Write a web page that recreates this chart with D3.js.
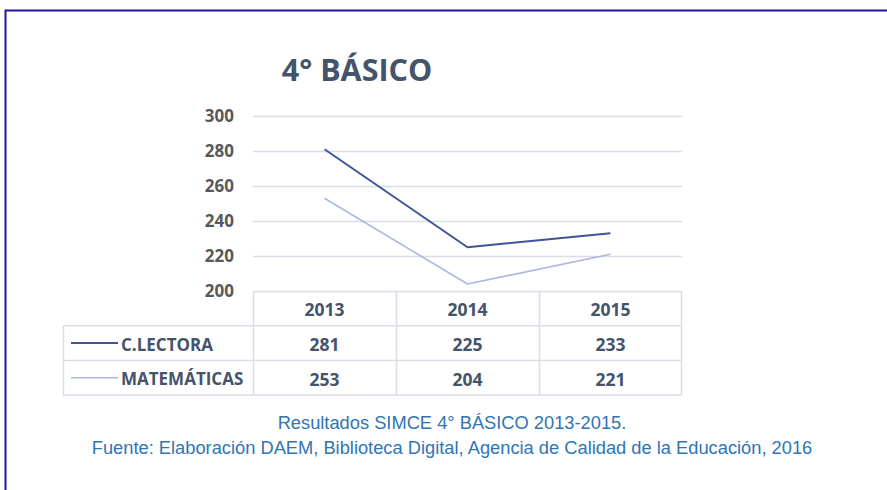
<!DOCTYPE html>
<html>
<head>
	<meta charset="utf-8">
	<script type="text/javascript" src="https://cdn.jsdelivr.net/npm/d3@7/dist/d3.min.js"></script>
	<title>4° BÁSICO</title>
	<style type="text/css">
		body { margin: 0; background: #fff; }
		svg { display: block; }
	</style>
</head>
<body>
	<script>
		// data
		var years = ['2013', '2014', '2015'];
		var seriesNames = ['C.LECTORA', 'MATEMÁTICAS'];
		var lectora = [281, 225, 233];
		var matematicas = [253, 204, 221];
		var yTicks = [200, 220, 240, 260, 280, 300];
		var seriesColors = ['#3f5597', '#aab8e2'];

		var svgWidth = 887;
		var svgHeight = 490;
		var plotLeft = 253, plotRight = 682;
		var plotTop = 116, plotBottom = 291;
		var rowHeight = 34.7;
		var tableLeft = 63;
		var textColor = '#44546a';
		var gridColor = '#dadde6';

		var svg = d3.select('body')
			.append('svg')
			.attr('width', svgWidth)
			.attr('height', svgHeight);

		// frame (top and left blue border)
		svg.append('path')
			.attr('d', 'M5.5,' + svgHeight + 'V10.5H' + svgWidth)
			.attr('fill', 'none')
			.attr('stroke', '#1a1a9a')
			.attr('stroke-width', 2);

		var xScale = d3.scaleBand()
			.domain(years)
			.range([plotLeft, plotRight]);

		var yScale = d3.scaleLinear()
			.domain([200, 300])
			.range([plotBottom, plotTop]);

		// title
		svg.append('text')
			.attr('x', 357)
			.attr('y', 81)
			.attr('text-anchor', 'middle')
			.attr('font-family', 'Open Sans, sans-serif')
			.attr('font-weight', 'bold')
			.attr('font-size', 30.5)
			.attr('fill', textColor)
			.text('4° BÁSICO');

		// gridlines
		svg.selectAll('line.grid')
			.data(yTicks.filter(function (d) { return d > 200; }))
			.enter()
			.append('line')
			.attr('class', 'grid')
			.attr('x1', plotLeft)
			.attr('x2', plotRight)
			.attr('y1', function (d) { return yScale(d) + 0.5; })
			.attr('y2', function (d) { return yScale(d) + 0.5; })
			.attr('stroke', gridColor)
			.attr('stroke-width', 1.3);

		// y axis labels
		var yAxis = d3.axisLeft(yScale)
			.tickValues(yTicks)
			.tickSize(0)
			.tickPadding(0);

		var yAxisG = svg.append('g')
			.attr('transform', 'translate(234,0)')
			.call(yAxis);
		yAxisG.select('.domain').remove();
		yAxisG.selectAll('text')
			.attr('font-family', 'Open Sans, sans-serif')
			.attr('font-weight', 'bold')
			.attr('font-size', 17)
			.attr('fill', '#595959');

		// lines
		var line = d3.line()
			.x(function (d, i) { return xScale(years[i]) + xScale.bandwidth() / 2; })
			.y(function (d) { return yScale(d); });

		var allSeries = [lectora, matematicas];

		svg.selectAll('path.series')
			.data(allSeries)
			.enter()
			.append('path')
			.attr('class', 'series')
			.attr('d', line)
			.attr('fill', 'none')
			.attr('stroke', function (d, i) { return seriesColors[i]; })
			.attr('stroke-width', function (d, i) { return i == 0 ? 2 : 1.6; })
			.attr('stroke-linejoin', 'round');

		// data table
		var table = svg.append('g');
		var tableBottom = plotBottom + rowHeight * 3;

		// horizontal rules
		table.append('line')
			.attr('x1', plotLeft).attr('x2', plotRight)
			.attr('y1', plotBottom + 0.5).attr('y2', plotBottom + 0.5);
		[1, 2, 3].forEach(function (r) {
			table.append('line')
				.attr('x1', tableLeft).attr('x2', plotRight)
				.attr('y1', plotBottom + rowHeight * r).attr('y2', plotBottom + rowHeight * r);
		});
		// vertical rules
		years.forEach(function (y) {
			table.append('line')
				.attr('x1', xScale(y) + 0.5).attr('x2', xScale(y) + 0.5)
				.attr('y1', plotBottom).attr('y2', tableBottom);
		});
		table.append('line')
			.attr('x1', plotRight - 0.5).attr('x2', plotRight - 0.5)
			.attr('y1', plotBottom).attr('y2', tableBottom);
		table.append('line')
			.attr('x1', tableLeft + 0.5).attr('x2', tableLeft + 0.5)
			.attr('y1', plotBottom + rowHeight).attr('y2', tableBottom);
		table.selectAll('line')
			.attr('stroke', gridColor)
			.attr('stroke-width', 1.5);

		function cellText(g, x, y, txt, anchor, size) {
			g.append('text')
				.attr('x', x)
				.attr('y', y)
				.attr('text-anchor', anchor)
				.attr('dominant-baseline', 'central')
				.attr('font-family', 'Open Sans, sans-serif')
				.attr('font-weight', 'bold')
				.attr('font-size', size)
				.attr('fill', textColor)
				.text(txt);
		}

		years.forEach(function (y) {
			cellText(table, xScale(y) + xScale.bandwidth() / 2, plotBottom + rowHeight / 2 + 1, y, 'middle', 17.5);
		});

		allSeries.forEach(function (vals, s) {
			var cy = plotBottom + rowHeight * (s + 1.5) + 1;
			table.append('line')
				.attr('x1', 71).attr('x2', 118)
				.attr('y1', cy - 1).attr('y2', cy - 1)
				.attr('stroke', seriesColors[s])
				.attr('stroke-width', s == 0 ? 2 : 1.6);
			cellText(table, 121, cy, seriesNames[s], 'start', 17);
			vals.forEach(function (v, i) {
				cellText(table, xScale(years[i]) + xScale.bandwidth() / 2, cy, v, 'middle', 17.5);
			});
		});

		// caption
		var captionLines = [
			'Resultados SIMCE 4° BÁSICO 2013-2015.',
			'Fuente: Elaboración DAEM, Biblioteca Digital, Agencia de Calidad de la Educación, 2016'
		];
		svg.selectAll('text.caption')
			.data(captionLines)
			.enter()
			.append('text')
			.attr('class', 'caption')
			.attr('x', 452)
			.attr('y', function (d, i) { return 428.5 + i * 25; })
			.attr('text-anchor', 'middle')
			.attr('font-family', 'Liberation Sans, sans-serif')
			.attr('font-size', 18.3)
			.attr('fill', '#3075b4')
			.text(function (d) { return d; });
	</script>
</body>
</html>
